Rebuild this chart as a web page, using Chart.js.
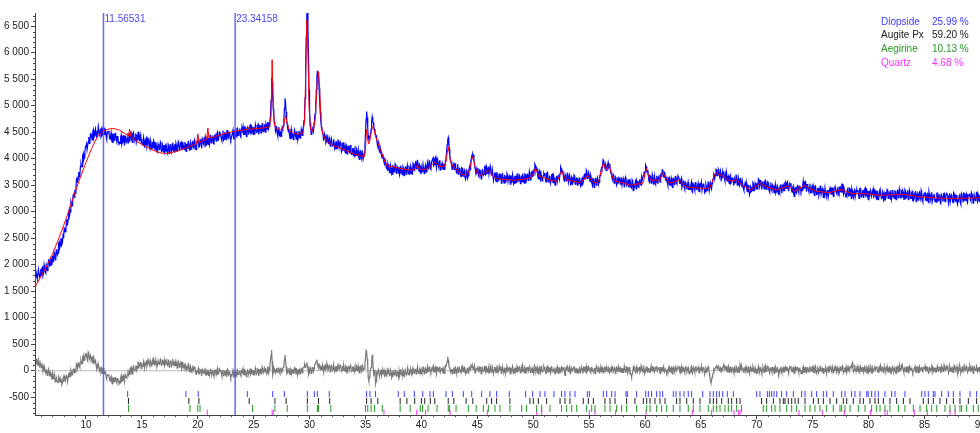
<!DOCTYPE html>
<html>
<head>
<meta charset="utf-8">
<script src="https://cdn.jsdelivr.net/npm/chart.js@4.4.1/dist/chart.umd.min.js"></script>
<style>
  html, body { margin: 0; padding: 0; background: #fff; overflow: hidden; }
  #wrap { width: 1000px; height: 433px; }
</style>
</head>
<body>
<div id="wrap"><canvas id="chart" width="1000" height="433"></canvas></div>
<script>
// 2-theta range
const xMin = 5.44;
const xMax = 90.41;
const xTickLabels = [10, 15, 20, 25, 30, 35, 40, 45, 50, 55, 60, 65, 70, 75, 80, 85, 90];
const yTickLabels = [-500, 0, 500, 1000, 1500, 2000, 2500, 3000, 3500, 4000, 4500, 5000, 5500, 6000, 6500];

// observed counts: one value every 0.1 deg from 5.5, plus the in-between readings from 5.55
const obsStart = 5.5;
const obsMidStart = 5.55;
const obsStep = 0.1;
const obsY = [
  1760,1850,1730,1830,1790,
  1820,1950,1830,1930,1840,1990,1970,2080,1990,2100,
  2170,2100,2180,2130,2290,2220,2430,2360,2490,2430,
  2500,2670,2630,2860,2860,3040,3000,3150,3150,3350,
  3410,3420,3640,3630,3660,3850,3860,4060,3980,4120,
  4240,4170,4320,4290,4470,4410,4510,4390,4500,4460,
  4500,4610,4470,4540,4430,4560,4490,4560,4420,4490,
  4510,4390,4430,4340,4460,4340,4480,4360,4420,4310,
  4310,4400,4270,4420,4330,4430,4310,4390,4310,4440,
  4420,4350,4480,4400,4340,4450,4380,4500,4340,4400,
  4380,4250,4350,4270,4390,4280,4350,4200,4280,4210,
  4210,4310,4170,4240,4120,4250,4190,4270,4150,4220,
  4260,4150,4200,4110,4240,4130,4280,4170,4240,4130,
  4160,4250,4130,4280,4210,4310,4180,4250,4170,4290,
  4280,4210,4340,4250,4190,4300,4220,4350,4190,4250,
  4330,4220,4320,4260,4390,4290,4380,4250,4340,4290,
  4320,4440,4300,4390,4290,4430,4380,4470,4360,4440,
  4490,4380,4440,4350,4490,4380,4530,4420,4490,4380,
  4400,4490,4380,4530,4460,4570,4440,4520,4430,4560,
  4530,4460,4600,4510,4460,4570,4500,4640,4480,4550,
  4600,4480,4580,4510,4650,4540,4620,4490,4580,4520,
  4550,4660,4560,4680,4620,4800,5520,5250,4780,4640,
  4560,4480,4540,4430,4510,4470,4560,4750,5140,4880,
  4650,4510,4450,4500,4380,4470,4400,4500,4370,4460,
  4410,4500,4420,4490,4560,4720,5150,6300,6800,5950,
  4900,4560,4470,4560,4680,4850,5300,5660,5580,5080,
  4730,4540,4460,4380,4420,4330,4400,4290,4360,4260,
  4370,4250,4290,4200,4320,4200,4340,4210,4280,4160,
  4160,4240,4110,4250,4160,4250,4110,4170,4080,4190,
  4150,4070,4190,4090,4020,4120,4040,4160,4000,4110,
  4480,4890,4580,4340,4420,4560,4790,4680,4560,4450,
  4380,4230,4250,4110,4130,4010,4020,3900,3930,3820,
  3770,3880,3740,3820,3710,3840,3790,3870,3750,3830,
  3840,3740,3790,3700,3820,3720,3860,3750,3820,3710,
  3730,3820,3710,3880,3830,3960,3850,3890,3760,3850,
  3830,3760,3890,3810,3750,3870,3820,3960,3820,3910,
  3970,3870,3990,3900,4010,3880,3940,3790,3880,3820,
  3900,3840,4020,4260,4400,4180,3960,3880,3820,3870,
  3910,3780,3810,3710,3820,3690,3830,3690,3750,3650,
  3660,3760,3680,3850,3880,4060,4100,3990,3820,3810,
  3770,3680,3790,3700,3650,3770,3710,3860,3720,3800,
  3850,3710,3790,3690,3790,3660,3730,3570,3660,3590,
  3600,3710,3570,3650,3540,3670,3620,3690,3570,3650,
  3690,3580,3630,3540,3670,3560,3710,3590,3660,3550,
  3570,3660,3540,3700,3620,3720,3600,3670,3610,3760,
  3740,3800,3870,3830,3700,3740,3630,3720,3580,3680,
  3680,3600,3720,3630,3560,3660,3590,3710,3550,3610,
  3540,3680,3560,3700,3720,3820,3740,3680,3580,3660,
  3600,3700,3560,3630,3520,3640,3580,3660,3540,3610,
  3640,3530,3580,3500,3640,3570,3720,3650,3740,3650,
  3700,3570,3630,3490,3610,3510,3640,3540,3600,3560,
  3680,3820,3870,3960,3830,3840,3790,3930,3870,3790,
  3720,3600,3660,3550,3640,3530,3640,3600,3520,3620,
  3500,3580,3460,3610,3510,3600,3470,3540,3450,3570,
  3530,3480,3610,3520,3470,3590,3520,3650,3600,3720,
  3760,3850,3740,3690,3560,3660,3560,3640,3590,3550,
  3620,3550,3660,3600,3720,3700,3780,3650,3680,3580,
  3540,3630,3510,3580,3500,3620,3560,3660,3540,3640,
  3660,3540,3590,3460,3560,3460,3560,3480,3510,3410,
  3420,3510,3390,3530,3450,3550,3420,3490,3400,3520,
  3470,3400,3520,3440,3380,3480,3420,3550,3400,3470,
  3530,3620,3700,3690,3790,3700,3760,3640,3720,3650,
  3720,3630,3700,3600,3660,3560,3660,3550,3630,3570,
  3610,3560,3680,3550,3520,3600,3510,3580,3440,3500,
  3480,3420,3500,3410,3370,3460,3400,3530,3430,3500,
  3540,3490,3600,3540,3480,3560,3500,3570,3450,3500,
  3500,3400,3480,3420,3510,3410,3460,3350,3440,3390,
  3420,3500,3410,3490,3400,3530,3470,3530,3450,3500,
  3490,3410,3440,3330,3440,3370,3480,3400,3480,3420,
  3430,3500,3440,3560,3500,3510,3420,3460,3360,3450,
  3430,3370,3480,3390,3340,3440,3360,3480,3330,3390,
  3360,3450,3310,3400,3290,3420,3370,3450,3350,3420,
  3480,3370,3420,3330,3460,3380,3520,3410,3450,3340,
  3330,3420,3300,3440,3370,3440,3310,3370,3280,3400,
  3380,3310,3440,3350,3290,3400,3330,3450,3300,3370,
  3390,3270,3370,3290,3430,3320,3390,3240,3340,3280,
  3290,3400,3260,3350,3230,3360,3310,3400,3270,3350,
  3410,3300,3340,3250,3380,3270,3420,3300,3370,3260,
  3290,3370,3240,3400,3320,3410,3280,3340,3250,3380,
  3340,3260,3390,3300,3240,3350,3280,3400,3230,3310,
  3350,3220,3320,3240,3380,3270,3340,3200,3300,3230,
  3240,3350,3210,3290,3180,3320,3260,3340,3210,3290,
  3340,3230,3280,3190,3320,3210,3360,3240,3310,3200,
  3210,3300,3180,3340,3250,3350,3220,3290,3200,3320,
  3300,3230,3360,3270,3210,3320,3250,3370,3220,3290,
  3330,3220,3310,3250,3300
];
const obsYMid = [
  1850,1730,1910,1770,1920,
  1930,1790,2000,1860,1990,1890,2090,1980,2120,1990,
  2060,2230,2090,2280,2190,2400,2320,2490,2390,2590,
  2690,2620,2830,2740,2980,2950,3190,3110,3310,3270,
  3350,3610,3550,3750,3670,3910,3850,4100,4020,4230,
  4280,4170,4410,4300,4460,4360,4550,4430,4560,4420,
  4470,4610,4430,4570,4450,4600,4460,4550,4370,4510,
  4530,4370,4490,4310,4460,4350,4490,4320,4430,4290,
  4290,4450,4310,4430,4250,4420,4300,4480,4330,4480,
  4470,4310,4500,4350,4460,4330,4500,4350,4460,4300,
  4270,4400,4210,4360,4230,4380,4240,4350,4180,4320,
  4340,4180,4310,4130,4280,4170,4310,4140,4260,4120,
  4120,4290,4150,4270,4100,4260,4130,4300,4140,4280,
  4290,4130,4320,4160,4280,4200,4320,4190,4300,4140,
  4200,4340,4160,4310,4180,4340,4200,4310,4170,4320,
  4370,4230,4370,4200,4370,4260,4420,4260,4390,4270,
  4270,4450,4320,4440,4280,4450,4330,4500,4350,4500,
  4490,4340,4530,4370,4490,4360,4530,4400,4510,4350,
  4400,4540,4370,4530,4410,4580,4450,4570,4410,4580,
  4600,4460,4590,4420,4590,4480,4630,4470,4590,4460,
  4470,4640,4500,4630,4460,4620,4490,4670,4510,4650,
  4500,4620,4680,4580,4700,5100,5450,4950,4700,4520,
  4620,4430,4600,4500,4420,4590,4620,4950,5050,4720,
  4560,4560,4380,4560,4440,4360,4540,4420,4520,4360,
  4510,4390,4550,4440,4620,4900,5700,6700,6500,5300,
  4680,4460,4580,4520,4780,5000,5550,5550,5350,4880,
  4600,4520,4360,4460,4300,4460,4300,4400,4240,4370,
  4240,4370,4180,4320,4190,4350,4210,4310,4130,4300,
  4310,4150,4270,4090,4240,4120,4260,4080,4190,4050,
  4050,4210,4060,4170,3990,4140,4000,4160,4000,4250,
  4750,4780,4420,4420,4450,4700,4720,4600,4480,4440,
  4280,4310,4160,4180,4040,4090,3930,3980,3840,3900,
  3890,3740,3870,3700,3860,3750,3900,3730,3850,3720,
  3700,3870,3730,3850,3680,3840,3710,3880,3720,3860,
  3860,3710,3910,3780,3920,3810,3980,3800,3880,3710,
  3750,3890,3720,3870,3750,3930,3810,3940,3800,3970,
  4020,3890,4020,3830,3970,3840,3975,3800,3920,3800,
  3800,3960,4120,4350,4320,4050,3950,3800,3900,3800,
  3900,3720,3900,3720,3810,3660,3820,3670,3780,3610,
  3780,3640,3790,3790,4000,4050,4070,3900,3760,3740,
  3830,3660,3780,3620,3790,3690,3850,3700,3840,3720,
  3710,3860,3700,3790,3590,3730,3590,3750,3580,3720,
  3700,3540,3730,3570,3680,3550,3720,3570,3680,3520,
  3560,3700,3520,3670,3550,3710,3580,3690,3530,3680,
  3720,3570,3710,3540,3700,3590,3750,3600,3750,3650,
  3680,3900,3780,3810,3620,3770,3600,3720,3630,3720,
  3730,3560,3740,3570,3670,3540,3700,3560,3660,3500,
  3640,3560,3680,3620,3850,3740,3780,3590,3700,3580,
  3720,3560,3690,3510,3660,3550,3690,3520,3630,3500,
  3550,3650,3480,3620,3540,3690,3620,3780,3630,3740,
  3600,3680,3530,3620,3460,3620,3500,3640,3520,3680,
  3760,3790,3980,3860,3900,3780,3880,3840,3900,3720,
  3630,3700,3540,3660,3500,3620,3540,3650,3590,3500,
  3630,3460,3650,3490,3590,3470,3620,3470,3600,3400,
  3450,3590,3420,3580,3460,3620,3500,3600,3680,3700,
  3880,3760,3790,3580,3680,3540,3700,3520,3670,3520,
  3680,3540,3690,3560,3660,3790,3680,3760,3600,3660,
  3490,3650,3500,3630,3460,3630,3500,3680,3520,3680,
  3620,3530,3630,3500,3590,3420,3540,3420,3560,3480,
  3420,3560,3370,3520,3400,3560,3430,3540,3380,3530,
  3550,3400,3530,3360,3520,3400,3560,3400,3540,3430,
  3600,3720,3640,3800,3680,3800,3680,3770,3620,3760,
  3760,3580,3760,3580,3680,3530,3690,3550,3650,3490,
  3550,3690,3500,3630,3490,3640,3490,3580,3400,3540,
  3550,3380,3500,3320,3480,3390,3550,3400,3540,3430,
  3430,3620,3490,3600,3420,3570,3430,3590,3420,3550,
  3530,3370,3550,3390,3490,3360,3520,3380,3480,3320,
  3370,3520,3350,3510,3400,3560,3440,3560,3390,3520,
  3540,3370,3480,3290,3450,3350,3510,3360,3490,3380,
  3400,3580,3450,3570,3380,3520,3380,3530,3360,3490,
  3480,3310,3490,3330,3440,3310,3470,3330,3440,3270,
  3310,3450,3270,3410,3290,3450,3330,3450,3290,3450,
  3480,3340,3470,3310,3470,3370,3520,3340,3450,3310,
  3300,3460,3310,3430,3250,3400,3270,3440,3280,3420,
  3410,3250,3440,3280,3390,3260,3430,3290,3400,3240,
  3270,3410,3290,3380,3260,3410,3280,3400,3230,3370,
  3400,3250,3380,3210,3370,3270,3420,3250,3370,3240,
  3240,3410,3270,3390,3230,3390,3260,3430,3270,3410,
  3400,3240,3420,3260,3360,3230,3400,3250,3360,3200,
  3230,3370,3190,3340,3220,3370,3240,3350,3190,3340,
  3360,3210,3340,3170,3330,3220,3370,3200,3320,3190,
  3180,3350,3210,3330,3160,3320,3190,3350,3190,3330,
  3320,3160,3350,3190,3300,3170,3340,3200,3310,3140,
  3200,3340,3140,3310,3190,3350,3220,3330,3170,3320,
  3350,3200,3330,3160,3320,3210,3360,3190,3310,3180,
  3200,3340,3200,3320
];

// calculated profile
const calcX = [5.44,6.0,6.5,7.0,7.5,8.0,8.5,9.0,9.5,10.0,10.5,11.0,11.5,12.0,12.5,13.0,13.5,13.8,13.9,14.0,14.5,15.0,15.5,16.0,16.5,17.0,17.5,18.0,18.5,19.0,19.5,19.9,20.0,20.1,20.5,20.8,20.9,21.0,21.5,22.0,22.5,23.0,23.5,24.0,24.4,24.5,24.6,25.0,25.5,26.0,26.4,26.55,26.65,26.75,26.85,27.0,27.4,27.6,27.7,27.85,28.0,28.2,28.5,29.0,29.4,29.55,29.65,29.75,29.85,29.95,30.05,30.2,30.4,30.5,30.6,30.7,30.8,30.9,31.0,31.1,31.2,31.5,32.0,33.0,34.0,34.9,35.0,35.1,35.2,35.3,35.4,35.5,35.6,35.7,35.8,36.0,36.2,36.4,36.6,36.8,37.0,37.5,38.0,39.0,39.4,39.6,39.8,40.0,40.5,40.8,41.0,41.2,41.4,41.6,42.0,42.2,42.3,42.4,42.5,42.6,42.85,43.0,43.75,44.0,44.2,44.3,44.4,44.5,44.6,44.7,44.8,44.9,45.0,45.25,45.5,45.8,46.0,46.2,46.4,46.7,47.0,48.2,49.0,49.7,50.0,50.1,50.2,50.3,50.4,50.6,50.8,51.0,51.5,52.0,52.1,52.3,52.4,52.55,52.7,52.9,53.0,53.5,54.2,54.5,54.7,54.9,55.1,55.3,55.7,55.9,56.0,56.1,56.2,56.3,56.4,56.5,56.6,56.8,56.9,57.0,57.2,57.5,58.0,58.7,59.5,59.8,59.9,60.0,60.1,60.2,60.3,60.5,61.0,61.3,61.4,61.5,61.6,61.7,61.9,62.2,62.5,62.8,63.0,63.2,63.5,63.7,64.0,65.0,65.5,65.8,66.0,66.1,66.2,66.3,66.4,66.5,66.8,67.0,67.45,67.8,68.2,68.5,69.0,69.4,69.8,70.3,70.6,71.0,71.8,72.0,72.8,73.0,73.4,73.8,74.3,74.6,75.3,76.0,76.5,77.6,78.0,78.6,79.8,81.0,82.0,83.1,84.6,87.0,89.4,90.41];
const calcY = [1580,1790,1980,2200,2460,2740,3040,3350,3650,3930,4190,4410,4520,4560,4570,4540,4470,4430,4560,4420,4330,4270,4215,4160,4120,4100,4110,4135,4170,4210,4255,4290,4470,4310,4340,4370,4580,4390,4415,4450,4480,4505,4525,4540,4550,4600,4555,4565,4575,4585,4600,4800,5870,5000,4640,4570,4550,4580,4660,4820,4660,4530,4490,4460,4490,4700,5600,6620,6000,5000,4600,4510,4600,4750,5100,5500,5640,5300,4850,4560,4450,4340,4260,4180,4090,4040,4200,4550,4350,4280,4350,4480,4600,4620,4500,4350,4250,4130,4020,3920,3850,3850,3820,3785,3800,3880,3820,3790,3810,3850,3900,3940,3900,3860,3850,3950,4100,4225,4100,3950,3850,3820,3690,3700,3740,3800,3880,3980,4035,3950,3850,3780,3730,3690,3710,3760,3785,3740,3680,3630,3620,3595,3610,3630,3720,3770,3820,3790,3720,3670,3650,3640,3600,3575,3570,3650,3720,3770,3680,3620,3610,3580,3550,3600,3660,3690,3620,3570,3540,3600,3700,3800,3880,3910,3850,3800,3830,3880,3800,3700,3595,3570,3545,3500,3530,3540,3600,3720,3820,3760,3680,3600,3595,3595,3650,3700,3730,3690,3620,3540,3555,3580,3595,3560,3500,3470,3460,3445,3440,3460,3560,3620,3680,3720,3730,3710,3690,3670,3595,3580,3600,3540,3460,3410,3460,3540,3500,3460,3410,3430,3490,3450,3380,3440,3500,3450,3390,3370,3360,3420,3380,3340,3340,3310,3320,3330,3280,3250,3260,3265];

// difference curve, same two grids as the observed data
const diffY = [
  230,130,170,100,150,
  60,100,10,30,-50,10,-50,-10,-100,-60,
  -60,-140,-120,-200,-130,-210,-140,-210,-180,-230,
  -210,-140,-190,-100,-120,-40,-100,-30,-60,40,
  40,20,130,90,90,170,150,250,190,240,
  290,220,350,240,290,210,250,140,180,110,
  100,130,30,50,-40,20,-40,-20,-110,-90,
  -90,-160,-140,-210,-140,-210,-130,-200,-150,-210,
  -200,-140,-200,-110,-140,-70,-130,-70,-90,0,
  0,-20,70,30,10,90,60,150,70,110,
  150,80,150,110,180,130,180,90,150,120,
  130,190,120,160,100,190,150,200,130,180,
  200,140,160,100,180,120,190,120,160,90,
  100,150,70,150,100,160,70,110,50,120,
  90,40,110,40,0,50,0,70,-30,-10,
  10,-60,0,-40,30,-40,10,-80,-20,-60,
  -50,10,-60,-20,-80,0,-40,10,-60,-10,
  10,-50,-20,-90,-10,-70,10,-60,-30,-90,
  -80,-30,-100,-20,-60,0,-70,-30,-80,-10,
  -30,-70,10,-40,-70,-10,-50,30,-50,-20,
  10,-60,0,-40,30,-30,30,-60,0,-40,
  -30,30,-40,60,20,200,390,-80,60,10,
  10,-30,50,-20,40,0,30,120,300,80,
  20,-20,-30,40,-50,30,-30,50,-60,20,
  -40,30,-30,20,40,70,60,120,90,-60,
  -20,30,-30,70,40,130,180,140,60,110,
  90,20,80,30,110,50,100,10,70,30,
  90,30,60,0,80,20,100,30,70,10,
  10,60,-10,70,30,90,10,50,0,70,
  50,10,90,30,0,60,20,100,10,40,
  250,350,100,-200,-40,60,300,20,-60,-250,
  -10,-80,-20,-60,10,-50,0,-90,-30,-70,
  -70,-10,-80,-40,-100,-20,-60,-10,-80,-30,
  0,-60,-30,-90,-10,-70,10,-60,-20,-80,
  -40,10,-60,20,-20,40,-40,0,-50,20,
  20,-20,60,0,-30,30,-10,70,-20,10,
  50,-20,40,0,70,10,60,-30,30,-10,
  0,60,90,180,200,60,-20,30,-50,20,
  60,0,30,-30,50,-10,70,0,40,-20,
  -10,40,-40,60,20,90,70,40,-40,30,
  30,-10,70,10,-20,40,0,80,-10,20,
  50,-20,40,0,70,10,60,-30,30,-10,
  0,60,-10,30,-30,50,10,60,-10,40,
  60,0,30,-30,50,-10,70,0,40,-20,
  -10,40,-30,50,10,70,-10,30,-20,50,
  40,0,60,20,-30,30,10,70,-20,10,
  40,-30,50,10,60,0,70,-20,20,-10,
  10,50,-20,40,-20,60,0,50,-60,30,
  50,10,20,-40,60,0,60,10,30,-30,
  0,30,-40,40,20,60,0,40,-30,60,
  20,-20,60,0,-30,50,10,70,-20,30,
  60,-10,50,10,80,0,50,-20,40,0,
  10,50,-20,40,-20,60,0,50,-20,30,
  50,10,40,-20,60,0,60,-40,-110,-30,
  0,50,-20,60,20,60,0,40,-10,60,
  40,0,60,20,-10,30,10,70,-10,30,
  50,-10,50,10,60,20,50,-20,40,0,
  0,60,-10,40,-20,50,20,60,0,40,
  50,10,30,-20,60,0,70,10,30,-10,
  -10,50,-20,40,20,60,0,40,-10,50,
  30,0,60,10,-20,40,-10,50,-100,-220,
  -120,-40,10,60,90,30,60,0,50,10,
  60,100,40,10,50,-10,40,0,60,10,
  40,0,60,-10,50,120,30,40,-20,50,
  10,50,-20,60,10,50,0,40,-10,60,
  40,0,60,20,-20,30,10,70,-10,20,
  50,-10,40,10,60,10,50,-20,30,0,
  0,50,-10,40,-20,50,20,60,-10,40,
  50,10,30,-20,50,0,60,10,40,-10,
  -10,40,-20,50,20,60,-10,40,-10,50,
  30,-10,60,10,-20,40,0,70,-10,30,
  50,-10,40,10,70,20,50,-20,30,0,
  10,60,0,40,-20,50,20,60,-10,50,
  60,10,40,-10,60,120,50,10,40,-10,
  0,50,-10,60,20,60,0,40,-20,50,
  40,0,60,20,-20,40,10,70,-10,30,
  50,0,50,10,60,20,50,-10,40,10,
  10,60,0,40,-10,60,20,60,0,40,
  60,20,40,-10,60,10,70,10,40,0,
  0,50,-10,60,20,70,0,50,-10,60,
  40,0,70,20,-10,50,10,80,0,40,
  60,0,50,20,70,20,60,-10,40,10,
  20,60,0,50,-10,60,20,70,0,40,
  60,20,40,0,70,10,60,20,50,0,
  10,60,0,60,20,70,10,50,0,60,
  40,10,60,20,50
];
const diffYMid = [
  220,110,210,80,150,
  120,-20,90,-30,20,-90,30,-90,-40,-170,
  -150,-60,-210,-130,-220,-110,-210,-150,-260,-150,
  -100,-190,-90,-200,-60,-110,10,-80,20,-40,
  -20,140,50,160,60,200,130,290,200,310,
  310,190,320,210,260,160,270,150,200,50,
  60,130,-20,60,-50,50,-60,-20,-150,-80,
  -70,-190,-110,-250,-140,-210,-120,-230,-140,-230,
  -230,-90,-190,-90,-210,-70,-140,20,-70,40,
  50,-60,90,10,90,20,160,70,150,40,
  80,180,60,160,80,210,120,190,90,190,
  220,110,200,70,190,120,220,110,190,100,
  100,220,110,200,70,180,90,220,100,190,
  180,50,180,70,140,40,170,60,130,0,
  30,130,-20,80,-20,100,0,60,-70,-20,
  50,-60,30,-100,20,-50,30,-80,0,-90,
  -90,40,-70,20,-110,10,-80,50,-60,30,
  20,-100,20,-80,-10,-100,30,-80,-10,-130,
  -90,10,-120,-20,-100,20,-60,10,-100,0,
  30,-80,-10,-110,10,-60,30,-70,10,-80,
  -80,50,-60,30,-100,20,-60,60,-40,50,
  40,-60,70,-30,120,300,180,-30,30,-40,
  50,-40,60,-50,20,40,70,220,200,-20,
  -40,50,-70,20,-10,-50,60,-40,30,-80,
  20,-60,40,-40,70,110,80,160,30,20,
  60,-50,60,-10,110,150,210,90,120,20,
  30,120,-20,90,20,140,10,100,-20,100,
  10,110,-20,80,0,120,30,100,-10,90,
  110,0,90,-40,80,10,100,-10,70,-20,
  -20,110,0,90,-40,80,-10,120,10,150,
  380,220,-150,-120,30,180,200,-80,20,-200,
  -80,20,-110,-10,-90,30,-60,10,-100,0,
  20,-90,0,-130,-10,-80,10,-100,-20,-110,
  -100,30,-80,20,-110,10,-80,50,-60,30,
  40,-80,50,-50,20,-60,70,-30,40,-70,
  -30,70,-60,40,-40,80,0,60,-40,60,
  90,-20,70,-60,60,-10,80,-30,50,-40,
  -50,100,120,260,110,40,10,-60,40,-50,
  70,-50,80,-20,50,-40,90,-10,60,-60,
  -30,60,-10,30,110,60,20,90,-20,40,
  90,-20,70,-60,60,-10,80,-30,50,-40,
  -40,90,-20,70,-60,60,-30,100,-10,80,
  70,-50,80,-20,50,-40,90,-10,60,-60,
  -20,80,-50,50,-30,90,0,70,-40,60,
  90,-20,70,-60,60,-10,80,-30,50,-40,
  -40,90,-20,70,-60,60,-30,100,-10,80,
  70,-50,80,-20,50,-40,90,-10,60,-60,
  -20,80,-50,50,-30,90,0,70,-90,60,
  80,-10,60,-50,60,0,70,-30,40,-40,
  -30,80,-20,60,-50,70,-20,90,0,80,
  60,-40,70,-10,40,-50,90,0,50,-50,
  -10,70,-40,60,-20,80,10,60,-30,70,
  80,-20,60,-50,70,-10,80,-20,50,-30,
  -30,90,-10,70,-40,60,-50,-80,-60,60,
  70,-40,80,-10,50,-30,90,0,60,-50,
  -20,70,-40,50,-30,90,0,70,-30,60,
  90,-10,70,-50,60,0,80,-30,40,-40,
  -30,80,-20,60,-60,70,-20,100,0,70,
  70,-50,80,-20,50,-40,90,-10,60,-60,
  -20,80,-50,50,-30,90,0,70,-40,50,
  90,-20,70,-60,60,-10,80,-50,-180,-200,
  -80,30,40,80,50,90,20,60,-10,70,
  120,20,70,-20,90,-30,60,-20,70,-40,
  -20,80,-30,60,-40,70,80,60,-30,60,
  80,-30,70,-50,70,-10,80,-30,60,-50,
  -40,90,-20,70,-60,60,-30,100,-10,80,
  60,-40,70,-30,60,-50,80,-20,50,-50,
  -30,70,-40,60,-20,80,10,60,-50,70,
  90,-10,60,-50,70,0,70,-40,60,-30,
  -50,80,-30,60,-50,70,-20,90,0,70,
  70,-40,90,-30,60,-30,80,0,50,-50,
  -10,70,-40,60,-40,80,10,80,-30,50,
  80,-30,60,-50,70,0,90,-40,40,-30,
  -30,100,-10,80,60,150,-20,110,0,90,
  80,-40,90,-10,60,-30,100,0,70,-50,
  -10,90,-40,60,-20,100,10,80,-30,70,
  100,-10,80,-50,70,0,90,-20,60,-30,
  -30,100,-10,80,-50,80,-20,110,0,90,
  70,-30,80,-20,70,-40,90,10,60,-40,
  0,80,-30,70,-30,90,0,70,-20,60,
  90,0,70,-40,60,10,100,-30,50,-20,
  -20,90,0,70,-40,90,-10,100,10,80,
  80,-40,90,-10,60,-30,100,0,70,-50,
  -10,90,-40,60,-20,100,10,80,-30,70,
  100,-10,80,-50,70,0,90,-20,60,-30,
  -20,90,-10,80
];

// reflection positions per phase
const diopsideTicks = [13.73,18.94,20.04,24.43,26.7,27.74,29.8,30.42,30.69,31.76,35.1,35.4,35.9,37.93,38.47,39.37,40.12,40.77,41.07,42.2,42.77,43.75,44.5,45.39,46.13,46.73,47.86,49.32,49.95,50.61,51.05,51.86,52.54,52.84,53.29,53.74,54.84,55.02,56.27,56.57,57.02,57.32,58.30,58.42,59.25,60.06,60.30,60.59,61.04,61.34,61.58,62.53,62.77,63.13,63.49,63.87,64.17,65.16,65.81,66.11,66.41,66.65,66.95,67.36,67.90,69.99,70.28,70.94,71.12,71.33,71.54,71.78,72.22,72.67,73.27,74.01,74.31,74.91,75.35,75.95,76.25,76.84,77.59,77.89,78.48,78.78,79.23,79.83,79.97,80.27,80.57,80.87,81.46,82.06,82.36,83.25,84.75,85.04,85.34,85.79,85.94,86.53,87.13,87.58,88.17,89.07,89.66];
const augiteTicks = [13.8,19.2,20.1,24.6,26.9,27.9,29.8,30.8,31.8,35.1,35.5,36.1,38.1,38.7,39.4,40.0,40.3,40.8,41.2,42.4,42.9,44.0,44.6,45.84,46.28,46.73,47.92,49.71,50.01,50.46,51.20,52.40,52.84,53.29,54.48,54.93,55.38,56.42,56.87,57.32,58.36,59.10,59.85,60.15,60.45,60.89,61.34,61.79,62.83,63.13,63.73,64.32,64.92,65.81,66.11,66.41,66.86,67.45,67.75,68.20,68.50,70.43,70.88,71.48,72.07,72.37,72.52,72.82,73.12,73.42,73.71,74.31,75.06,75.50,75.95,76.55,77.14,77.74,78.04,78.63,79.23,79.53,80.12,80.57,80.87,81.32,81.91,82.51,83.11,83.70,84.89,85.34,85.79,86.38,86.98,87.58,88.17,88.92,89.66];
const aegirineTicks = [13.8,19.3,20.0,20.2,24.9,26.9,28.0,29.8,30.7,30.8,31.9,35.0,35.2,35.5,35.8,36.5,38.1,39.0,39.9,40.1,40.6,41.4,42.4,42.5,43.1,44.2,44.9,45.54,45.99,46.58,47.03,47.92,48.97,49.41,50.31,50.76,51.50,52.54,52.99,53.44,53.89,54.78,55.23,55.53,56.42,56.87,57.46,57.91,58.36,59.25,60.15,60.45,61.04,61.49,61.94,62.53,63.13,63.87,64.32,64.92,65.66,66.11,66.41,66.71,67.15,67.45,67.75,68.20,68.64,70.58,70.88,71.33,71.63,72.07,72.67,73.12,73.56,74.31,74.76,75.20,75.65,76.25,76.84,77.44,77.59,77.89,78.34,79.08,79.68,80.27,80.72,81.02,81.46,81.91,82.66,83.25,84.0,84.6,85.19,85.64,86.09,86.83,87.28,87.73,88.17,88.32,88.77,89.37,89.81];
const quartzTicks = [20.85,26.65,26.75,36.65,39.58,40.38,42.56,45.9,50.31,50.76,55.02,55.53,57.37,60.09,64.23,65.96,67.96,68.35,68.50,73.77,75.86,77.83,80.18,81.46,81.67,84.09,85.25,87.28,87.73];

const phaseNames = ['Diopside', 'Augite Px', 'Aegirine', 'Quartz'];
const phasePercents = [25.99, 59.20, 10.13, 4.68];
const markerValues = ['11.56531', '23.34158'];

// styling
const FONT = "'Liberation Sans', Arial, sans-serif";
const phaseColors = ['#3c3cff', '#202020', '#229922', '#ff33ff'];
const tickRowY = [-440, -570, -710, -800];
const tickRowR = [3, 3, 3.5, 3.5];

function merge(a, startA, b, startB) {
    const pts = a.map((v, i) => ({ x: startA + i * obsStep, y: v }))
        .concat(b.map((v, i) => ({ x: startB + i * obsStep, y: v })));
    return pts.sort((p, q) => p.x - q.x);
}

const obsPts = merge(obsY, obsStart, obsYMid, obsMidStart);
const diffPts = merge(diffY, obsStart, diffYMid, obsMidStart);
const calcPts = calcX.map((x, i) => ({ x: x, y: calcY[i] }));

function tickRow(list, idx) {
    return {
        data: list.map(x => ({ x: x, y: tickRowY[idx] })),
        showLine: false,
        pointStyle: 'line',
        pointRotation: 90,
        pointRadius: tickRowR[idx],
        pointBorderWidth: 1,
        pointBorderColor: phaseColors[idx],
        pointBackgroundColor: phaseColors[idx]
    };
}

function fmt(v) {
    let s = String(Math.abs(v)).replace(/\B(?=(\d{3})+(?!\d))/g, ' ');
    return (v < 0 ? '-' : '') + s;
}

const overlay = {
    id: 'overlay',
    afterDatasetsDraw(chart) {
        const ctx = chart.ctx;
        const a = chart.chartArea;
        const xs = chart.scales.x;
        ctx.save();
        markerValues.forEach(m => {
            const px = xs.getPixelForValue(parseFloat(m));
            ctx.strokeStyle = 'rgba(85,85,255,0.9)';
            ctx.lineWidth = 1.5;
            ctx.beginPath();
            ctx.moveTo(px, a.top);
            ctx.lineTo(px, a.bottom);
            ctx.stroke();
            ctx.fillStyle = '#4a4af0';
            ctx.font = '10px ' + FONT;
            ctx.textBaseline = 'middle';
            ctx.textAlign = 'left';
            ctx.fillText(m, px + 1, 19);
        });
        ctx.font = '10px ' + FONT;
        ctx.textBaseline = 'middle';
        phaseNames.forEach((n, i) => {
            ctx.fillStyle = phaseColors[i];
            ctx.fillText(n, 881, 22 + i * 13.6);
            ctx.fillText(phasePercents[i].toFixed(2) + ' %', 932, 22 + i * 13.6);
        });
        ctx.restore();
    },
    afterDraw(chart) {
        const ctx = chart.ctx;
        const a = chart.chartArea;
        const xs = chart.scales.x, ys = chart.scales.y;
        ctx.save();
        ctx.strokeStyle = '#444';
        ctx.lineWidth = 1;
        ctx.beginPath();
        for (let v = 6; v <= 90; v++) {
            if (v % 5 === 0) continue;
            const px = Math.round(xs.getPixelForValue(v)) + 0.5;
            ctx.moveTo(px, a.bottom);
            ctx.lineTo(px, a.bottom + 2);
        }
        for (let v = -800; v <= 6700; v += 100) {
            if (v % 500 === 0) continue;
            const py = Math.round(ys.getPixelForValue(v)) + 0.5;
            ctx.moveTo(a.left - 2, py);
            ctx.lineTo(a.left, py);
        }
        ctx.stroke();
        ctx.restore();
    }
};

Chart.defaults.font.family = FONT;
Chart.defaults.font.size = 10;
Chart.defaults.color = '#222';

new Chart(document.getElementById('chart'), {
    type: 'line',
    data: {
        datasets: [
            { data: calcPts, borderColor: '#ff0000', borderWidth: 1, pointRadius: 0 },
            { data: obsPts, borderColor: '#0000ff', borderWidth: 1.2, pointRadius: 0 },
            { data: diffPts, borderColor: '#7a7a7a', borderWidth: 1.2, pointRadius: 0 },
            { data: [{ x: xMin, y: 0 }, { x: xMax, y: 0 }], borderColor: '#b8b8b8', borderWidth: 1, pointRadius: 0 },
            tickRow(diopsideTicks, 0),
            tickRow(augiteTicks, 1),
            tickRow(aegirineTicks, 2),
            tickRow(quartzTicks, 3)
        ]
    },
    options: {
        responsive: false,
        animation: false,
        events: [],
        layout: { padding: { top: 13, right: 15, left: 0, bottom: 0 } },
        plugins: { legend: { display: false }, tooltip: { enabled: false } },
        scales: {
            x: {
                type: 'linear',
                min: xMin,
                max: xMax,
                afterBuildTicks: s => { s.ticks = xTickLabels.map(v => ({ value: v })); },
                afterFit: s => { s.height = 18; s.paddingLeft = 0; s.paddingRight = 0; },
                ticks: { autoSkip: false, maxRotation: 0, padding: 0, callback: v => String(v) },
                grid: { drawOnChartArea: false, tickLength: 4, tickColor: '#444' },
                border: { color: '#444', width: 1 }
            },
            y: {
                min: -835,
                max: 6750,
                afterBuildTicks: s => { s.ticks = yTickLabels.map(v => ({ value: v })); },
                afterFit: s => { s.width = 35; s.paddingTop = 0; s.paddingBottom = 0; },
                ticks: { autoSkip: false, padding: 2, callback: v => fmt(v) },
                grid: { drawOnChartArea: false, tickLength: 4, tickColor: '#444' },
                border: { color: '#444', width: 1 }
            }
        }
    },
    plugins: [overlay]
});
</script>
</body>
</html>
